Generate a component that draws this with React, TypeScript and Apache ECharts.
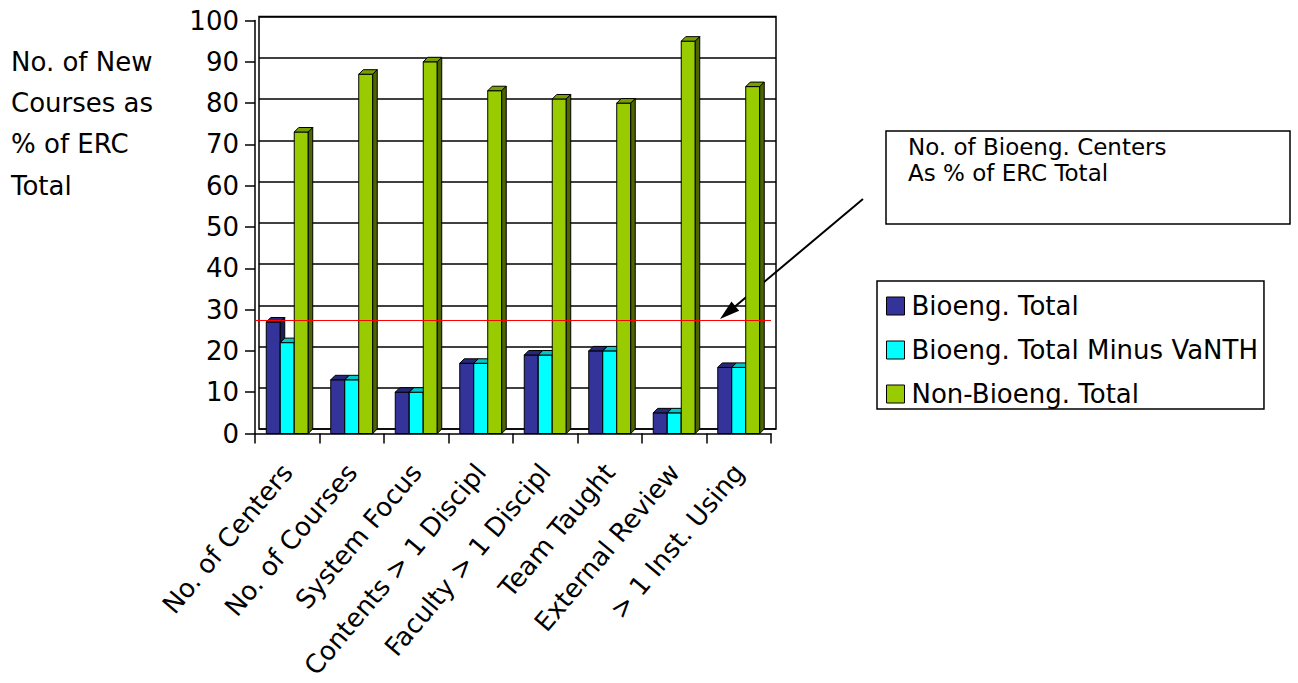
import React, { useEffect, useRef } from "react";
import * as echarts from "echarts";

const categories = [
  "No. of Centers",
  "No. of Courses",
  "System Focus",
  "Contents > 1 Discipl",
  "Faculty > 1 Discipl",
  "Team Taught",
  "External Review",
  "> 1 Inst. Using",
];
const seriesNames = ["Bioeng. Total", "Bioeng. Total Minus VaNTH", "Non-Bioeng. Total"];
const bioengTotal = [27, 13, 10, 17, 19, 20, 5, 16];
const bioengMinusVanth = [22, 13, 10, 17, 19, 20, 5, 16];
const nonBioengTotal = [73, 87, 90, 83, 81, 80, 95, 84];
const referenceValue = 27.5;
const yTicks = { min: 0, max: 100, interval: 10 };

const faceColors = [
  { front: "#333399", top: "#28287a", side: "#1c1c5a" },
  { front: "#00ffff", top: "#00c8c8", side: "#009999" },
  { front: "#99cc00", top: "#789f00", side: "#4d6600" },
];

const FONT = "DejaVu Sans";

export default function App() {
  const ref = useRef<HTMLDivElement>(null);
  useEffect(() => {
    if (!ref.current) return;
    const chart = echarts.init(ref.current, undefined, { renderer: "svg" });
    const allData = [bioengTotal, bioengMinusVanth, nonBioengTotal];
    const depth = 4.5;

    const makeRender = (sIdx: number) => (params: any, api: any) => {
      const ci = api.value(0);
      const v = api.value(1);
      const base = api.coord([ci, 0]);
      const top = api.coord([ci, v]);
      const cw = api.size([1, 0])[0];
      const bw = cw * 0.217;
      const x0 = base[0] - 1.5 * bw + sIdx * bw;
      const c = faceColors[sIdx];
      const stroke = { stroke: "#000", lineWidth: 1 };
      return {
        type: "group",
        children: [
          {
            type: "rect",
            shape: { x: x0, y: top[1], width: bw, height: base[1] - top[1] },
            style: { fill: c.front, ...stroke },
          },
          {
            type: "polygon",
            shape: {
              points: [
                [x0, top[1]],
                [x0 + depth, top[1] - depth],
                [x0 + bw + depth, top[1] - depth],
                [x0 + bw, top[1]],
              ],
            },
            style: { fill: c.top, ...stroke },
          },
          {
            type: "polygon",
            shape: {
              points: [
                [x0 + bw, top[1]],
                [x0 + bw + depth, top[1] - depth],
                [x0 + bw + depth, base[1] - depth],
                [x0 + bw, base[1]],
              ],
            },
            style: { fill: c.side, ...stroke },
          },
        ],
      };
    };

    const series: any[] = allData.map((vals, sIdx) => ({
      name: seriesNames[sIdx],
      type: "custom",
      xAxisIndex: 1,
      yAxisIndex: 1,
      itemStyle: { color: faceColors[sIdx].front },
      renderItem: makeRender(sIdx),
      data: vals.map((v, i) => [i, v]),
      encode: { x: 0, y: 1 },
      markLine:
        sIdx === 0
          ? {
              silent: true,
              symbol: "none",
              label: { show: false },
              lineStyle: { color: "#ff0000", width: 1, type: "solid" },
              data: [{ yAxis: referenceValue }],
            }
          : undefined,
    }));

    // arrow geometry (annotation)
    const tip = [720, 319];
    const start = [863, 199];
    const dx = tip[0] - start[0];
    const dy = tip[1] - start[1];
    const len = Math.sqrt(dx * dx + dy * dy);
    const ux = dx / len;
    const uy = dy / len;
    const hl = 20;
    const hw = 6;
    const bx = tip[0] - hl * ux;
    const by = tip[1] - hl * uy;

    chart.setOption({
      animation: false,
      textStyle: { fontFamily: FONT, color: "#000" },
      grid: [
        {
          left: 259,
          top: 16.5,
          width: 517,
          height: 412.5,
          show: true,
          borderColor: "#000",
          borderWidth: 1.5,
          backgroundColor: "transparent",
        },
        { left: 255, top: 20.5, width: 516, height: 413 },
      ],
      xAxis: [
        {
          gridIndex: 0,
          type: "category",
          data: categories,
          axisLabel: { show: false },
          axisTick: { show: false },
          axisLine: { show: false },
          splitLine: { show: false },
        },
        {
          gridIndex: 1,
          type: "category",
          data: categories,
          axisLine: { show: true, lineStyle: { color: "#000", width: 1.5 } },
          axisTick: { show: true, length: 10, lineStyle: { color: "#000", width: 1.5 } },
          axisLabel: {
            interval: 0,
            rotate: 50,
            margin: 34,
            fontSize: 26,
            fontFamily: FONT,
            color: "#000",
          },
        },
      ],
      yAxis: [
        {
          gridIndex: 0,
          type: "value",
          ...yTicks,
          axisLabel: { show: false },
          axisTick: { show: false },
          axisLine: { show: false },
          splitLine: { show: true, lineStyle: { color: "#000", width: 1.5 } },
        },
        {
          gridIndex: 1,
          type: "value",
          ...yTicks,
          axisLine: { show: true, lineStyle: { color: "#000", width: 1.5 } },
          axisTick: { show: true, length: 10, lineStyle: { color: "#000", width: 1.5 } },
          axisLabel: { margin: 16, fontSize: 26, fontFamily: FONT, color: "#000" },
          splitLine: { show: false },
        },
      ],
      legend: {
        orient: "vertical",
        left: 877,
        top: 281,
        data: seriesNames,
        icon: "rect",
        itemWidth: 18,
        itemHeight: 18,
        itemGap: 18,
        padding: [12, 6, 2, 9],
        borderColor: "#000",
        borderWidth: 1.5,
        backgroundColor: "#fff",
        itemStyle: { borderColor: "#000", borderWidth: 1 },
        textStyle: { fontSize: 26, fontFamily: FONT, color: "#000", lineHeight: 26, padding: [0, 0, 0, 2] },
      },
      graphic: [
        {
          type: "text",
          left: 11,
          top: 41,
          style: {
            text: "No. of New\nCourses as\n% of ERC\nTotal",
            font: `26px "${FONT}"`,
            lineHeight: 41.3,
            fill: "#000",
          },
        },
        {
          type: "rect",
          shape: { x: 886, y: 131, width: 404, height: 93 },
          style: { fill: "#fff", stroke: "#000", lineWidth: 1.5 },
        },
        {
          type: "text",
          x: 908,
          y: 134,
          style: {
            text: "No. of Bioeng. Centers\nAs % of ERC Total",
            font: `23px "${FONT}"`,
            lineHeight: 26,
            fill: "#000",
          },
        },
        {
          type: "line",
          shape: { x1: start[0], y1: start[1], x2: bx, y2: by },
          style: { stroke: "#000", lineWidth: 2 },
        },
        {
          type: "polygon",
          shape: {
            points: [
              [tip[0], tip[1]],
              [bx - hw * uy, by + hw * ux],
              [bx + hw * uy, by - hw * ux],
            ],
          },
          style: { fill: "#000" },
        },
      ],
      series,
    });
    return () => chart.dispose();
  }, []);
  return (
    <div
      ref={ref}
      style={{ position: "fixed", left: 0, top: 0, width: 1298, height: 683, background: "#fff" }}
    />
  );
}
